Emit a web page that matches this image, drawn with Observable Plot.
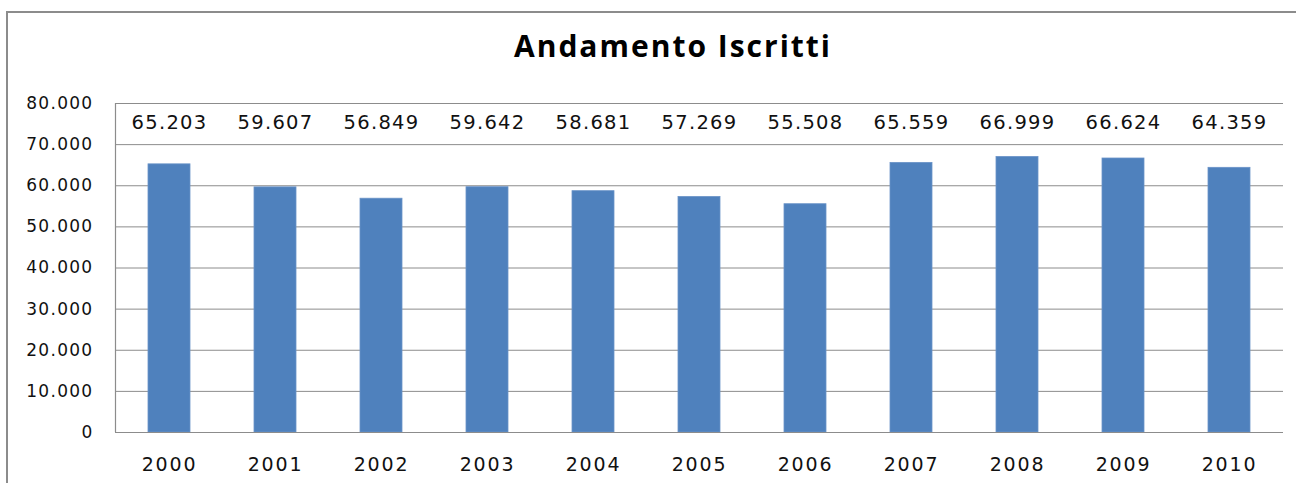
<!DOCTYPE html>
<html>
<head>
<meta charset="utf-8">
<script src="https://cdn.jsdelivr.net/npm/d3@7"></script>
<script src="https://cdn.jsdelivr.net/npm/@observablehq/plot@0.6"></script>
<style>
  html, body { margin: 0; padding: 0; background: #fff; width: 1296px; height: 483px; overflow: hidden; }
  #frameTop { position: absolute; left: 6px; top: 11px; width: 1290px; height: 2px; background: #8c8c8c; }
  #frameLeft { position: absolute; left: 6px; top: 11px; width: 2px; height: 472px; background: #8c8c8c; }
  #title { position: absolute; left: 0; top: 25px; width: 1346px; text-align: center; font-family: "Open Sans", sans-serif; font-weight: bold; font-size: 30px; letter-spacing: 2px; color: #000; }
  #chart { position: absolute; left: 0; top: 0; }
</style>
</head>
<body>
<div id="frameTop"></div>
<div id="frameLeft"></div>
<div id="title">Andamento Iscritti</div>
<div id="chart"></div>
<script>
const years = ["2000","2001","2002","2003","2004","2005","2006","2007","2008","2009","2010"];
const iscritti = [65203, 59607, 56849, 59642, 58681, 57269, 55508, 65559, 66999, 66624, 64359];
const yTicks = [0, 10000, 20000, 30000, 40000, 50000, 60000, 70000, 80000];

const data = years.map((y, i) => ({year: y, value: iscritti[i]}));
const it = d3.formatLocale({decimal: ",", thousands: ".", grouping: [3], currency: ["", "€"]});
const fmt = it.format(",d");
const labelY = 75300;

const chart = Plot.plot({
  width: 1296,
  height: 483,
  marginLeft: 115,
  marginRight: 13,
  marginTop: 103,
  marginBottom: 51,
  style: {fontFamily: "'DejaVu Sans', sans-serif", background: "transparent", color: "#111"},
  x: {domain: years, paddingInner: 0.6, paddingOuter: 0.3, label: null},
  y: {domain: [0, 80000], label: null},
  marks: [
    Plot.gridY(yTicks, {stroke: "#8c8c8c", strokeOpacity: 1, strokeWidth: 1}),
    Plot.barY(data, {x: "year", y: "value", fill: "#4F81BD", stroke: "#6a93c8", strokeWidth: 0.8}),
    Plot.ruleY([0], {stroke: "#8c8c8c", strokeWidth: 1.2}),
    Plot.text(data, {x: "year", y: () => labelY, text: d => fmt(d.value), fontSize: 19.5, fill: "#111"}),
    Plot.axisY(yTicks, {tickFormat: fmt, tickSize: 0, tickPadding: 22, fontSize: 17, label: null}),
    Plot.axisX({tickSize: 0, tickPadding: 25, fontSize: 19, label: null})
  ]
});
chart.querySelectorAll('[aria-label="y-axis tick label"] text').forEach(t => t.style.letterSpacing = "1.3px");
chart.querySelectorAll('[aria-label="x-axis tick label"] text').forEach(t => t.style.letterSpacing = "1.8px");
chart.querySelectorAll('[aria-label="text"] text').forEach(t => t.style.letterSpacing = "1.3px");
const ns = "http://www.w3.org/2000/svg";
const ln = document.createElementNS(ns, "line");
ln.setAttribute("x1", 115.5); ln.setAttribute("x2", 115.5);
ln.setAttribute("y1", 103); ln.setAttribute("y2", 432);
ln.setAttribute("stroke", "#8c8c8c"); ln.setAttribute("stroke-width", 1.2);
chart.appendChild(ln);
document.getElementById("chart").appendChild(chart);
</script>
</body>
</html>
